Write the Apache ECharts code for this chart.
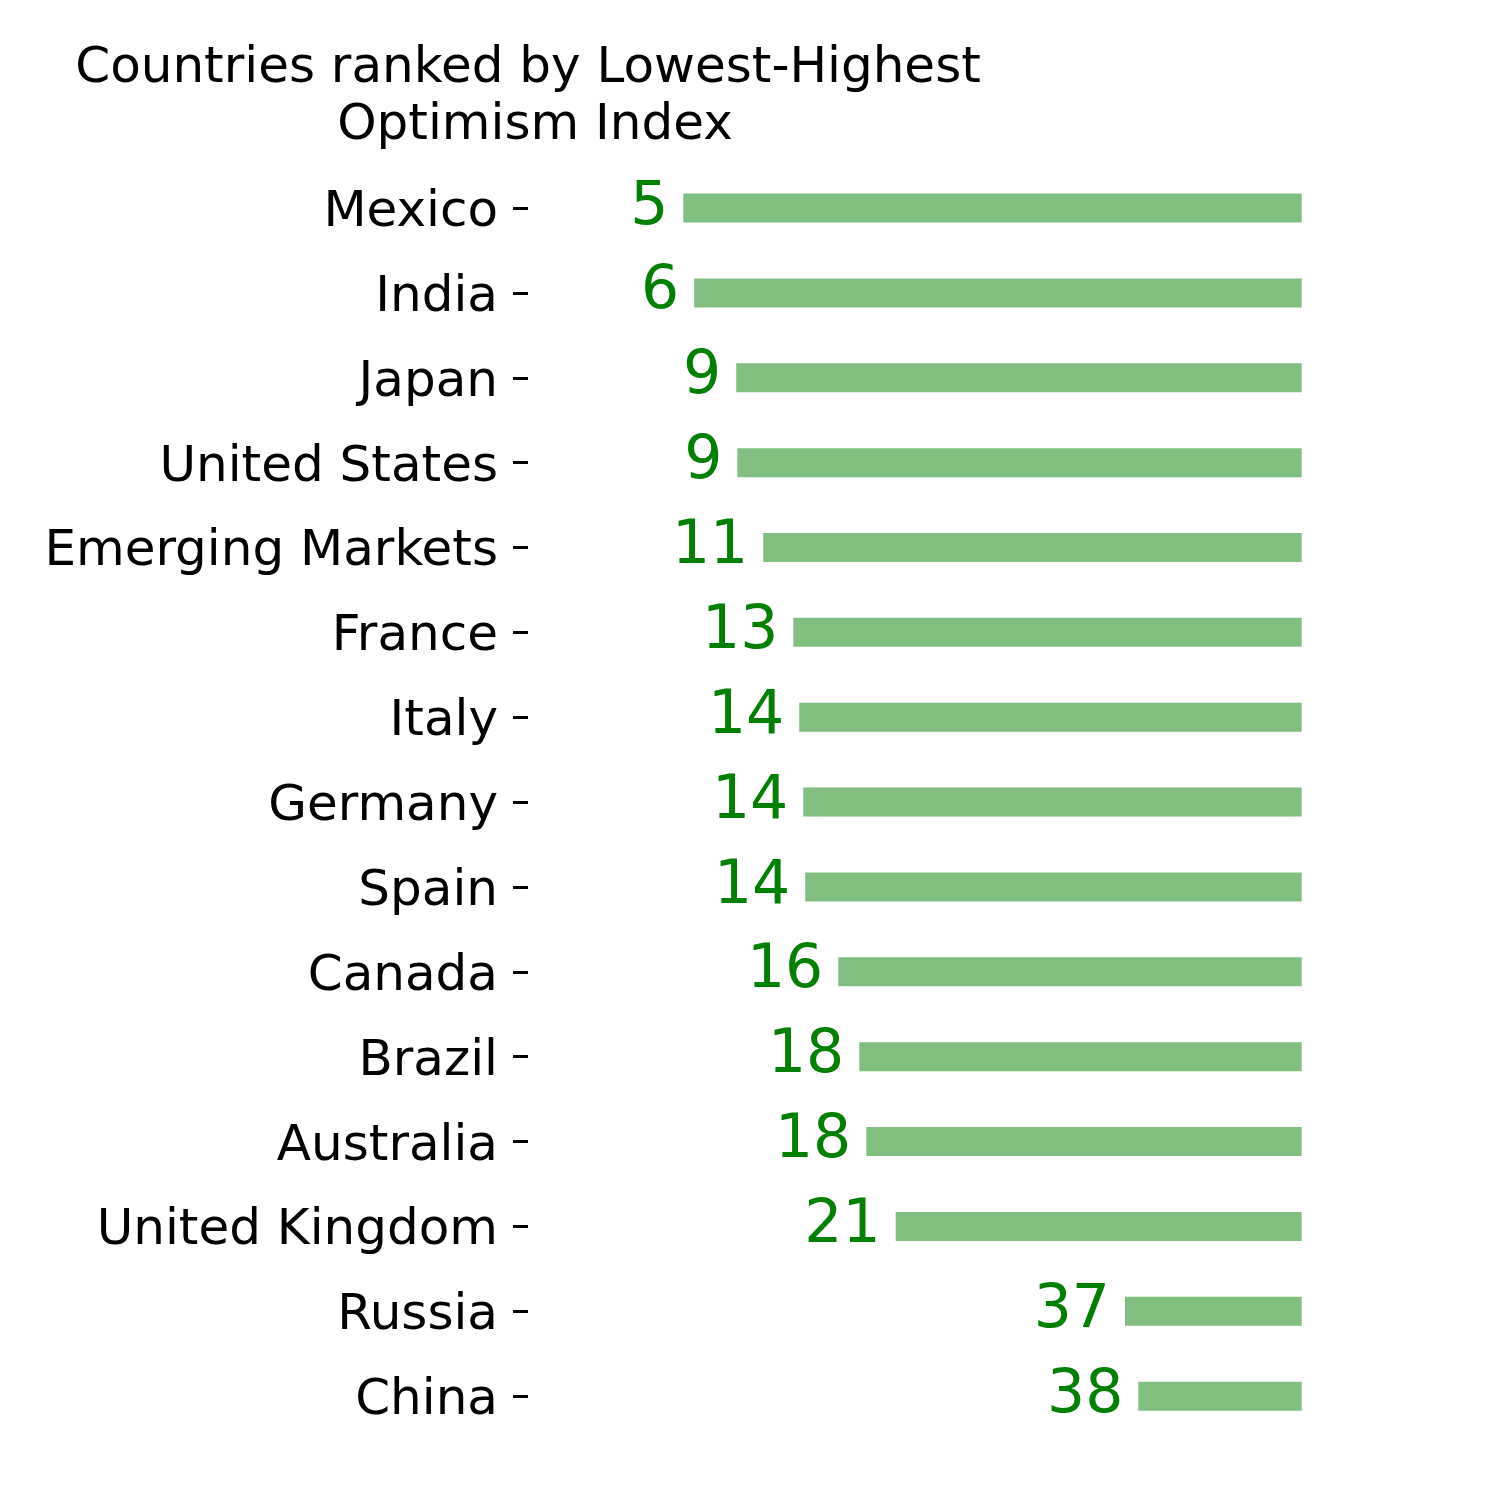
<!DOCTYPE html>
<html lang="en">
<head>
    <meta charset="UTF-8">
    <title>Optimism Index</title>
    <style>
        html, body {
            margin: 0;
            height: 100%;
            background: #fff;
        }
        #main {
            width: 1500px;
            height: 1500px;
        }
    </style>
</head>
<body>
<script src="https://cdn.jsdelivr.net/npm/echarts@6/dist/echarts.min.js"></script>
<div id="main"></div>
<script>
    // countries, top to bottom
    var countries = ['Mexico', 'India', 'Japan', 'United States', 'Emerging Markets', 'France', 'Italy',
        'Germany', 'Spain', 'Canada', 'Brazil', 'Australia', 'United Kingdom', 'Russia', 'China'];
    // optimism index
    var values = [5.38, 6.16, 9.16, 9.24, 11.09, 13.24, 13.66, 13.95, 14.09, 16.45, 17.95, 18.45, 20.55, 36.93, 37.88];
    // every bar runs out to this value
    var barEnd = 49.55;

    var FONT = 'DejaVu Sans';

    function drawChart() {
        var chart = echarts.init(document.getElementById('main'));

        var titleStyle = {
            fontFamily: FONT,
            fontSize: 50,
            fontWeight: 'normal',
            color: '#000'
        };

        var option = {
            backgroundColor: '#ffffff',
            animation: false,
            // two lines, each centred on its own like matplotlib does
            title: [
                {text: 'Countries ranked by Lowest-Highest', left: 528, top: 44, padding: 0, textAlign: 'center', textStyle: titleStyle},
                {text: 'Optimism Index', left: 535, top: 101, padding: 0, textAlign: 'center', textStyle: titleStyle}
            ],
            grid: {
                left: 528,
                top: 165.6,
                width: 780,
                height: 1273
            },
            xAxis: {
                type: 'value',
                min: -5.714,
                max: 50,
                show: false
            },
            yAxis: {
                type: 'category',
                inverse: true,
                data: countries,
                axisLine: {show: false, onZero: false},
                axisTick: {
                    show: true,
                    alignWithLabel: true,
                    length: 15,
                    lineStyle: {color: '#000', width: 3}
                },
                axisLabel: {
                    margin: 30,
                    formatter: function (v) {
                        return '{c|' + v + '}';
                    },
                    rich: {
                        // push the text down a little, matplotlib sits it lower
                        c: {
                            fontFamily: FONT,
                            fontSize: 50,
                            color: '#000',
                            padding: [10, 0, 0, 0]
                        }
                    }
                },
                splitLine: {show: false}
            },
            series: [
                {
                    // invisible base, so the green bar starts at the value
                    type: 'bar',
                    stack: 'idx',
                    barWidth: 29,
                    silent: true,
                    itemStyle: {color: 'rgba(0,0,0,0)'},
                    data: values
                },
                {
                    type: 'bar',
                    stack: 'idx',
                    barWidth: 29,
                    itemStyle: {color: '#80bf80'},
                    label: {
                        show: true,
                        position: 'left',
                        distance: 15,
                        fontFamily: FONT,
                        fontSize: 60,
                        color: '#008000',
                        formatter: function (p) {
                            return Math.round(values[p.dataIndex]);
                        }
                    },
                    data: values.map(function (v) {
                        return barEnd - v;
                    })
                }
            ]
        };

        chart.setOption(option);
        window.addEventListener('resize', function () {
            chart.resize();
        });
    }

    drawChart();
</script>
</body>
</html>
